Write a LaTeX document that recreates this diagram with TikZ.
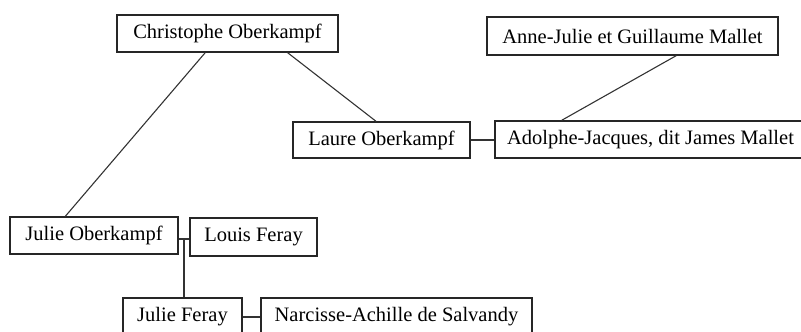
\documentclass[tikz,border=0pt]{standalone}
\usepackage{fontspec}
\setmainfont{Liberation Serif}
\usetikzlibrary{calc}
\begin{document}
\begin{tikzpicture}[x=1pt,y=-1pt,
  person/.style={draw=black!85,line width=1.2pt,rectangle,inner sep=0pt,
    minimum height=37pt,font=\fontsize{20.5}{24}\selectfont,anchor=center},
  link/.style={draw=black!80,line width=1.1pt}]
\useasboundingbox (0,0) rectangle (801,332);
\node[person,minimum width=221pt] (chris) at (227.5,33.5) {Christophe Oberkampf};
\node[person,minimum width=291pt,minimum height=38pt] (anne) at (632.5,36) {Anne-Julie et Guillaume Mallet};
\node[person,minimum width=177pt,minimum height=36pt] (laure) at (381.5,140) {Laure Oberkampf};
\node[person,minimum width=311pt] (adolphe) at (650.5,139.5) {Adolphe-Jacques, dit James Mallet};
\node[person,minimum width=168pt] (julieO) at (94,235.5) {Julie Oberkampf};
\node[person,minimum width=127pt,minimum height=38pt] (louis) at (253.5,237) {Louis Feray};
\node[person,minimum width=119pt] (julieF) at (182.5,316.5) {Julie Feray};
\node[person,minimum width=271pt] (narcisse) at (396.5,316.5) {Narcisse-Achille de Salvandy};
\draw[link] ($(chris.south west)!0.40!(chris.south east)$) -- ($(julieO.north west)!0.33!(julieO.north east)$);
\draw[link] ($(chris.south west)!0.77!(chris.south east)$) -- ($(laure.north west)!0.47!(laure.north east)$);
\draw[link] ($(anne.south west)!0.65!(anne.south east)$) -- ($(adolphe.north west)!0.215!(adolphe.north east)$);
\draw[link] (laure.east) -- (adolphe.west |- laure.east);
\coordinate (m1) at (184,239);
\draw[link] (julieO.east |- m1) -- (louis.west |- m1);
\draw[link] (m1) -- (julieF.north -| m1);
\coordinate (m2) at (250,317);
\draw[link] (julieF.east |- m2) -- (narcisse.west |- m2);
\end{tikzpicture}
\end{document}
